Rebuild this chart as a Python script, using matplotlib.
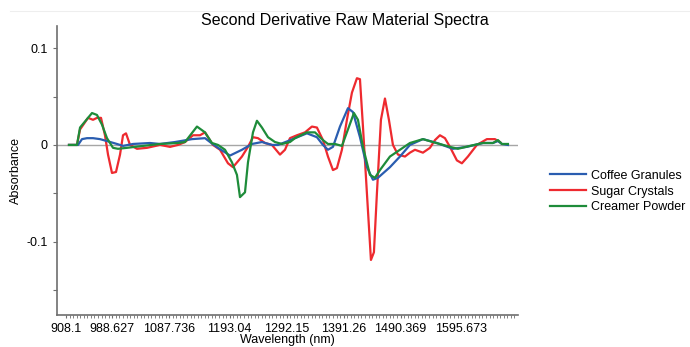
import numpy as np
import matplotlib
matplotlib.use("Agg")
import matplotlib.pyplot as plt
from matplotlib.lines import Line2D

plt.rcParams["font.family"] = ["Liberation Sans", "DejaVu Sans"]

# ---------------------------------------------------------------------------
# Data
# ---------------------------------------------------------------------------

coffee_wl = [913.3, 929.0, 935.9, 944.6, 955.1, 967.3, 979.4, 996.8, 1007.3, 1024.7,
             1054.3, 1071.7, 1097.8, 1127.3, 1150.0, 1158.7, 1172.6, 1193.5, 1214.3,
             1231.7, 1249.1, 1266.5, 1277.0, 1294.4, 1306.6, 1327.4, 1344.8, 1355.3,
             1364.0, 1372.7, 1384.9, 1398.8, 1407.5, 1419.7, 1431.8, 1442.3, 1451.0,
             1471.9, 1489.3, 1506.7, 1529.3, 1553.6, 1581.5, 1605.8, 1633.7, 1651.1,
             1659.8, 1666.7, 1677.2]
coffee_abs = [0.0, 0.0, 0.006, 0.007, 0.007, 0.006, 0.004, 0.001, -0.001, 0.001,
              0.002, 0.001, 0.003, 0.006, 0.007, 0.003, -0.003, -0.011, -0.005,
              0.001, 0.003, 0.0, 0.0, 0.004, 0.007, 0.012, 0.008, 0.0,
              -0.005, -0.002, 0.019, 0.038, 0.034, 0.008, -0.023, -0.036, -0.034,
              -0.023, -0.012, 0.0, 0.006, 0.002, -0.004, -0.002, 0.002, 0.002,
              0.004, 0.001, 0.0]

sugar_wl = [913.3, 927.2, 932.5, 946.4, 955.1, 962.0, 969.0, 975.9, 981.2, 988.1,
            995.1, 1002.1, 1007.3, 1012.5, 1019.5, 1031.6, 1049.0, 1071.7, 1089.1,
            1103.0, 1115.2, 1129.1, 1141.3, 1150.0, 1155.2, 1163.9, 1176.1, 1190.0,
            1198.7, 1214.3, 1224.8, 1233.5, 1242.2, 1254.4, 1266.5, 1280.5, 1289.2,
            1297.9, 1310.0, 1324.0, 1336.1, 1344.8, 1355.3, 1364.0, 1372.7, 1379.6,
            1388.3, 1397.0, 1405.7, 1414.4, 1419.7, 1424.9, 1431.8, 1438.8, 1444.0,
            1449.2, 1456.2, 1463.2, 1470.1, 1477.1, 1485.8, 1498.0, 1506.7, 1515.4,
            1529.3, 1541.5, 1550.2, 1558.9, 1567.6, 1576.3, 1588.4, 1597.1, 1607.6,
            1623.2, 1640.6, 1654.6, 1663.3]
sugar_abs = [0.0, 0.0, 0.016, 0.028, 0.026, 0.028, 0.028, 0.010, -0.010, -0.029,
             -0.028, -0.010, 0.010, 0.012, 0.0, -0.004, -0.003, 0.0, -0.002,
             0.0, 0.003, 0.010, 0.010, 0.013, 0.008, 0.0, -0.005, -0.019,
             -0.023, -0.012, -0.002, 0.008, 0.007, 0.002, 0.0, -0.010, -0.005,
             0.007, 0.010, 0.013, 0.019, 0.018, 0.005, -0.012, -0.026, -0.024,
             -0.005, 0.026, 0.054, 0.069, 0.068, 0.019, -0.050, -0.119, -0.111,
             -0.050, 0.026, 0.048, 0.026, 0.0, -0.010, -0.012, -0.008, -0.005,
             -0.008, -0.003, 0.005, 0.010, 0.007, -0.002, -0.016, -0.019, -0.012,
             0.0, 0.006, 0.006, 0.003]

creamer_wl = [913.3, 927.2, 932.5, 953.3, 962.0, 970.7, 979.4, 989.9, 998.6, 1014.2,
              1042.1, 1071.7, 1103.0, 1115.2, 1136.0, 1150.0, 1162.1, 1172.6, 1184.8,
              1196.9, 1205.6, 1210.9, 1219.6, 1224.8, 1233.5, 1240.4, 1249.1, 1259.6,
              1271.8, 1283.9, 1297.9, 1306.6, 1327.4, 1341.4, 1355.3, 1364.0, 1376.2,
              1388.3, 1398.8, 1409.2, 1416.2, 1424.9, 1437.1, 1445.8, 1454.5, 1471.9,
              1489.3, 1506.7, 1529.3, 1546.7, 1576.3, 1590.2, 1611.1, 1633.7, 1651.1,
              1659.8, 1666.7, 1677.2]
creamer_abs = [0.0, 0.0, 0.018, 0.033, 0.031, 0.021, 0.007, -0.003, -0.004, -0.003,
               -0.001, 0.001, 0.002, 0.003, 0.019, 0.013, 0.002, 0.0, -0.005,
               -0.018, -0.031, -0.054, -0.049, -0.018, 0.013, 0.025, 0.018, 0.008,
               0.003, 0.001, 0.003, 0.007, 0.013, 0.013, 0.005, 0.001, 0.001,
               -0.001, 0.016, 0.033, 0.026, -0.002, -0.031, -0.034, -0.026, -0.012,
               -0.005, 0.002, 0.006, 0.003, -0.002, -0.004, -0.001, 0.002, 0.002,
               0.005, 0.001, 0.001]

tick_wl = [908.1, 988.627, 1087.736, 1193.04, 1292.15, 1391.26, 1490.369, 1595.673]
tick_labels = ["908.1", "988.627", "1087.736", "1193.04", "1292.15",
               "1391.26", "1490.369", "1595.673"]

# ---------------------------------------------------------------------------
# Plot
# ---------------------------------------------------------------------------

fig = plt.figure(figsize=(6.9, 3.47), dpi=100)
ax = fig.add_axes([0.0826, 0.092, 0.668, 0.833])

ax.axhline(0, color="#a6a6a6", lw=1.0, zorder=1)
ax.plot(coffee_wl, coffee_abs, color="#2a5db0", lw=1.6, label="Coffee Granules", zorder=3)
ax.plot(sugar_wl, sugar_abs, color="#ee2a2f", lw=1.6, label="Sugar Crystals", zorder=2)
ax.plot(creamer_wl, creamer_abs, color="#1e8c3a", lw=1.6, label="Creamer Powder", zorder=4)

ax.set_xlim(892.4, 1694.6)
ax.set_ylim(-0.176, 0.123)

ax.set_xticks(tick_wl)
ax.set_xticklabels(tick_labels)
ax.set_xticks(np.arange(908.1, 1690, 6.1944), minor=True)
ax.set_yticks([-0.1, 0, 0.1])
ax.set_yticklabels(["-0.1", "0", "0.1"])
ax.set_yticks([-0.15, -0.05, 0.05], minor=True)

for side in ("top", "right"):
    ax.spines[side].set_visible(False)
for side in ("left", "bottom"):
    ax.spines[side].set_color("#6e6e6e")
    ax.spines[side].set_linewidth(1.2)

ax.tick_params(axis="x", which="major", length=2, width=0.8, color="#6e6e6e",
               labelsize=9, pad=4)
ax.tick_params(axis="x", which="minor", length=2, width=0.6, color="#6e6e6e")
ax.tick_params(axis="y", which="both", length=3, width=0.8, color="#6e6e6e",
               labelsize=9)

ax.set_xlabel("Wavelength (nm)", fontsize=9, labelpad=-1)
ax.set_ylabel("Absorbance", fontsize=9, labelpad=3)
fig.suptitle("Second Derivative Raw Material Spectra", fontsize=11.5, y=0.962)

fig.add_artist(Line2D([0.015, 1.0], [0.968, 0.968], color="#eeeeee", lw=0.8))

fig.legend(loc="upper left", bbox_to_anchor=(0.79, 0.525), frameon=False,
           fontsize=9, handlelength=2.9, handletextpad=0.4, labelspacing=0.3,
           borderaxespad=0)

fig.savefig("out.png", dpi=100)
